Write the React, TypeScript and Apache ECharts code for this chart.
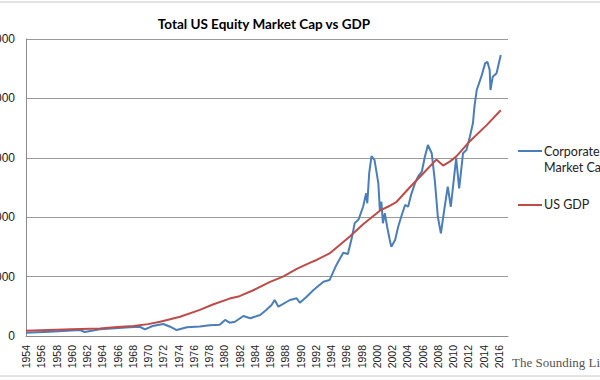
import React, { useEffect, useRef } from "react";
import * as echarts from "echarts";

const chartTitle = "Total US Equity Market Cap vs GDP";
const seriesNames = ["Corporate\nMarket Cap", "US GDP"];

const equityYears = [
  1954.0, 1957.1, 1961.1, 1961.7, 1963.7, 1965.7, 1967.6, 1968.9, 1969.6, 1970.6,
  1972.0, 1972.9, 1973.75, 1975.1, 1976.8, 1978.1, 1979.4, 1980.1, 1980.7, 1981.4,
  1982.5, 1983.4, 1984.7, 1985.5, 1986.2, 1986.6, 1987.1, 1988.6, 1989.5, 1989.9,
  1990.8, 1991.7, 1993.0, 1993.8, 1994.7, 1995.6, 1996.2, 1996.7, 1997.1, 1997.6,
  1998.2, 1998.6, 1998.75, 1999.0, 1999.3, 1999.7, 2000.2, 2000.4, 2000.6, 2000.8,
  2001.05, 2001.35, 2001.7, 2001.9, 2002.4, 2002.8, 2003.2, 2003.7, 2004.1, 2004.55,
  2005.0, 2005.4, 2005.9, 2006.3, 2006.7, 2007.2, 2007.6, 2008.0, 2008.4, 2008.9,
  2009.3, 2009.7, 2010.4, 2010.8, 2011.3, 2011.75, 2012.2, 2012.6, 2012.8, 2013.1,
  2013.7, 2014.2, 2014.5, 2014.8, 2014.9, 2015.2, 2015.7, 2016.25,
];
const equityValues = [
  280, 360, 500, 340, 560, 650, 730, 780, 560, 840,
  1010, 780, 500, 730, 800, 900, 950, 1350, 1120, 1200,
  1680, 1490, 1770, 2190, 2610, 3030, 2470, 3030, 3170, 2800,
  3310, 3870, 4570, 4710, 5980, 7010, 6900, 8200, 9500, 9800,
  10880, 12010, 11170, 13700, 15150, 14810, 12850, 10600, 11300, 9490,
  10330, 9200, 8080, 7520, 8080, 9200, 10040, 11030, 10880, 12010,
  12850, 13410, 13830, 15090, 16080, 15380, 13130, 10040, 8640, 10880,
  12570, 10880, 14960, 12430, 15380, 15660, 16780, 17900, 19300, 20710,
  21830, 22950, 23090, 22390, 20710, 21830, 22110, 23650,
];

const gdpYears = [
  1954.0, 1957.0, 1960.0, 1963.7, 1966.0, 1968.1, 1970.0, 1971.6, 1974.2, 1976.8,
  1978.5, 1980.7, 1982.0, 1983.8, 1986.0, 1987.7, 1989.5, 1991.2, 1992.1, 1993.8,
  1996.5, 1998.2, 2000.4, 2001.5, 2002.6, 2004.3, 2006.1, 2007.8, 2008.7, 2009.6,
  2010.4, 2012.2, 2014.4, 2016.25,
];
const gdpValues = [
  440, 500, 560, 630, 750, 850, 1000, 1200, 1620, 2200,
  2650, 3150, 3350, 3850, 4550, 5000, 5650, 6150, 6400, 6950,
  8400, 9400, 10550, 10900, 11300, 12500, 13700, 14850, 14350, 14700,
  15100, 16400, 17750, 19000,
];

const yTicks = [0, 5000, 10000, 15000, 20000, 25000];

export default function App() {
  const ref = useRef<HTMLDivElement>(null);
  useEffect(() => {
    if (!ref.current) return;
    const chart = echarts.init(ref.current, null, { renderer: "svg" });
    const equityData = equityYears.map((y, i) => [y, equityValues[i]]);
    const gdpData = gdpYears.map((y, i) => [y, gdpValues[i]]);
    chart.setOption({
      animation: false,
      backgroundColor: "#ffffff",
      title: {
        text: chartTitle,
        left: 259,
        top: 12,
        textAlign: "center",
        textStyle: { fontFamily: "Lato", fontSize: 13.5, fontWeight: "bold", color: "#000" },
      },
      grid: {
        left: 26,
        right: 92,
        top: 39,
        bottom: 44,
        containLabel: false,
        outerBoundsMode: "none",
      },
      xAxis: {
        type: "value",
        min: 1954,
        max: 2017.2,
        interval: 2,
        axisLine: { show: true, lineStyle: { color: "#8c8c8c", width: 1 } },
        axisTick: { show: false },
        splitLine: { show: false },
        axisLabel: {
          rotate: 90,
          margin: 9,
          fontFamily: "Liberation Sans",
          fontSize: 10.5,
          color: "#1a1a1a",
          showMaxLabel: false,
          formatter: (v: number) => (Number.isInteger(v) && v % 2 === 0 ? String(v) : ""),
        },
      },
      yAxis: {
        type: "value",
        min: yTicks[0],
        max: yTicks[yTicks.length - 1],
        interval: 5000,
        axisLine: { show: true, lineStyle: { color: "#8c8c8c", width: 1 } },
        axisTick: { show: false },
        splitLine: { show: true, lineStyle: { color: "#9a9a9a", width: 1 } },
        axisLabel: {
          margin: 11,
          fontFamily: "Liberation Sans",
          fontSize: 12,
          color: "#1a1a1a",
          formatter: (v: number) => String(v),
        },
      },
      series: [
        {
          name: seriesNames[0],
          type: "line",
          data: equityData,
          showSymbol: false,
          lineStyle: { color: "#4a7ebb", width: 2 },
          itemStyle: { color: "#4a7ebb" },
        },
        {
          name: seriesNames[1],
          type: "line",
          data: gdpData,
          showSymbol: false,
          lineStyle: { color: "#be4b48", width: 2 },
          itemStyle: { color: "#be4b48" },
        },
      ],
      graphic: [
        {
          type: "rect",
          silent: true,
          shape: { x: -3, y: 2, width: 606, height: 374 },
          style: { fill: "none", stroke: "#c8c8c8", lineWidth: 1 },
        },
        {
          type: "line",
          shape: { x1: 518, y1: 151, x2: 542, y2: 151 },
          style: { stroke: "#4a7ebb", lineWidth: 2 },
        },
        {
          type: "text",
          x: 544,
          y: 143,
          style: {
            text: seriesNames[0],
            fontFamily: "Lato",
            fontSize: 12.5,
            lineHeight: 16,
            fill: "#222",
          },
        },
        {
          type: "line",
          shape: { x1: 518, y1: 205, x2: 542, y2: 205 },
          style: { stroke: "#be4b48", lineWidth: 2 },
        },
        {
          type: "text",
          x: 544,
          y: 198,
          style: { text: seriesNames[1], fontFamily: "Lato", fontSize: 12.5, fill: "#222" },
        },
        {
          type: "text",
          x: 512,
          y: 356,
          style: {
            text: "The Sounding Line",
            fontFamily: "Liberation Serif",
            fontSize: 13,
            fill: "#555",
          },
        },
      ],
    });
    return () => chart.dispose();
  }, []);
  return (
    <div
      ref={ref}
      style={{ position: "fixed", left: 0, top: 0, width: 600, height: 380 }}
    />
  );
}
